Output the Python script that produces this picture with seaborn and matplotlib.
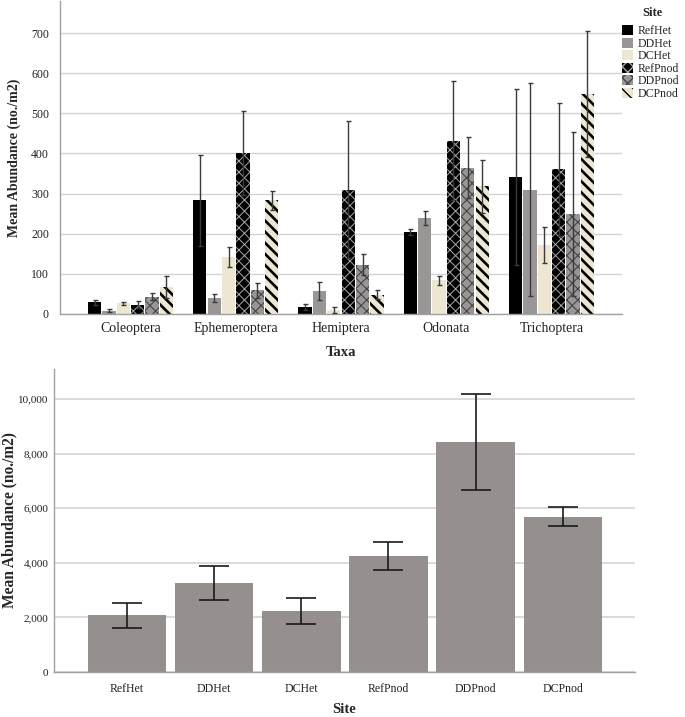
import numpy as np
import pandas as pd
import matplotlib
matplotlib.use("Agg")
import matplotlib.pyplot as plt
import matplotlib.ticker as mticker
from matplotlib.patches import Patch
import seaborn as sns

# ---------------- data ----------------
taxa = ["Coleoptera", "Ephemeroptera", "Hemiptera", "Odonata", "Trichoptera"]
sites = ["RefHet", "DDHet", "DCHet", "RefPnod", "DDPnod", "DCPnod"]

refhet_mean = [29, 283, 18, 204, 341]
ddhet_mean = [8, 40, 58, 239, 310]
dchet_mean = [27, 141, 10, 84, 173]
refpnod_mean = [23, 401, 310, 432, 361]
ddpnod_mean = [43, 59, 123, 365, 250]
dcpnod_mean = [67, 283, 48, 318, 548]

refhet_err = [7, 113, 7, 8, 220]
ddhet_err = [4, 9, 22, 17, 265]
dchet_err = [4, 25, 7, 11, 45]
refpnod_err = [9, 105, 170, 149, 166]
ddpnod_err = [9, 18, 27, 76, 204]
dcpnod_err = [28, 23, 11, 67, 156]

total_mean = [2080, 3270, 2220, 4250, 8440, 5690]
total_err = [450, 620, 475, 500, 1760, 340]

means = [refhet_mean, ddhet_mean, dchet_mean, refpnod_mean, ddpnod_mean, dcpnod_mean]
errs = [refhet_err, ddhet_err, dchet_err, refpnod_err, ddpnod_err, dcpnod_err]

# ---------------- style ----------------
sns.set_theme(style="white")
plt.rcParams["font.family"] = ["Liberation Serif", "DejaVu Serif"]
plt.rcParams["hatch.linewidth"] = 1.0

face = ["#000000", "#9b9696", "#ece6d2", "#000000", "#9b9696", "#ece6d2"]
hatch = [None, None, None, "xxx", "xxx", "\\\\\\"]
hcol = [None, None, None, "#a8a8a8", "#454545", "#000000"]
hlw = [1.0, 1.0, 1.0, 0.7, 0.8, 1.9]

fig = plt.figure(figsize=(6.85, 7.17), dpi=100)

# ---------------- top chart ----------------
ax1 = fig.add_axes([60 / 685, 1 - 314 / 717, 562 / 685, 313 / 717])
long = pd.DataFrame({
    "Taxa": np.repeat([taxa], len(sites), axis=0).ravel(),
    "Site": np.repeat(sites, len(taxa)),
    "Mean": np.concatenate(means),
})
sns.barplot(data=long, x="Taxa", y="Mean", hue="Site", order=taxa, hue_order=sites,
            palette=face, errorbar=None, width=0.82, gap=0.08, saturation=1,
            legend=False, ax=ax1)

bar_conts = list(ax1.containers)[:len(sites)]
for i, cont in enumerate(bar_conts):
    xs = []
    for bar in cont:
        bar.set_linewidth(0)
        if hatch[i]:
            bar.set_hatch(hatch[i])
            bar.set_edgecolor(hcol[i])
            if hasattr(bar, "set_hatch_linewidth"):
                bar.set_hatch_linewidth(hlw[i])
        xs.append(bar.get_x() + bar.get_width() / 2)
    ax1.errorbar(xs, means[i], yerr=errs[i], fmt="none", ecolor="#3a3a3a",
                 elinewidth=1.0, capsize=1.8, capthick=1.0, zorder=5)

ax1.set_ylim(0, 780)
ax1.set_xlim(-0.67, 4.67)
ax1.set_yticks(range(0, 701, 100))
ax1.yaxis.grid(True, color="#d4d4d4", linewidth=1.0)
ax1.set_axisbelow(True)
for s in ["top", "right"]:
    ax1.spines[s].set_visible(False)
for s in ["left", "bottom"]:
    ax1.spines[s].set_color("#a0a0a0")
    ax1.spines[s].set_linewidth(1.0)
ax1.tick_params(axis="both", length=0, labelsize=8.5, colors="#222222")
ax1.tick_params(axis="y", pad=8)
ax1.tick_params(axis="x", pad=6, labelsize=10)
ax1.set_xlabel("Taxa", fontsize=10.5, fontweight="bold", labelpad=8)
ax1.set_ylabel("Mean Abundance (no./m2)", fontsize=10, fontweight="bold")
ax1.yaxis.set_label_coords(-39 / 562, 0.5)

handles = []
for i, s in enumerate(sites):
    kw = dict(facecolor=face[i], label=s, linewidth=0)
    if hatch[i]:
        kw.update(hatch=hatch[i], edgecolor=hcol[i])
    handles.append(Patch(**kw))
fig.text(652 / 685, 1 - 13 / 717, "Site", ha="center", va="center",
         fontsize=9, fontweight="bold")
leg = fig.legend(handles=handles, loc="upper left",
                 bbox_to_anchor=(622 / 685, 1 - 25 / 717), frameon=False,
                 fontsize=8.5,
                 handlelength=0.95, handleheight=0.95, handletextpad=0.35,
                 labelspacing=0.03, borderaxespad=0, borderpad=0)

# ---------------- bottom chart ----------------
ax2 = fig.add_axes([54 / 685, 1 - 672 / 717, 581 / 685, 303 / 717])
tot = pd.DataFrame({"Site": sites, "Mean": total_mean})
sns.barplot(data=tot, x="Site", y="Mean", order=sites, color="#958f8e",
            saturation=1, errorbar=None, width=0.9, ax=ax2)
xs2 = []
for bar in list(ax2.containers)[0]:
    bar.set_linewidth(0)
    xs2.append(bar.get_x() + bar.get_width() / 2)
ax2.errorbar(xs2, total_mean, yerr=total_err, fmt="none", ecolor="#1a1a1a",
             elinewidth=1.2, capsize=11, capthick=1.2, zorder=5)

ax2.set_ylim(0, 11100)
ax2.set_xlim(-0.84, 5.83)
ax2.set_yticks(range(0, 10001, 2000))
ax2.yaxis.set_major_formatter(mticker.FuncFormatter(lambda v, p: f"{int(v):,}"))
ax2.yaxis.grid(True, color="#d4d4d4", linewidth=1.2)
ax2.set_axisbelow(True)
for s in ["top", "right"]:
    ax2.spines[s].set_visible(False)
for s in ["left", "bottom"]:
    ax2.spines[s].set_color("#a0a0a0")
    ax2.spines[s].set_linewidth(1.0)
ax2.tick_params(axis="both", length=0, labelsize=8, colors="#222222")
ax2.tick_params(axis="y", pad=4)
ax2.tick_params(axis="x", pad=8, labelsize=8.5)
ax2.set_xlabel("Site", fontsize=10.5, fontweight="bold", labelpad=6)
ax2.set_ylabel("Mean Abundance (no./m2)", fontsize=11.2, fontweight="bold")
ax2.yaxis.set_label_coords(-37 / 581, 0.5)

fig.savefig("out.png", dpi=100)
